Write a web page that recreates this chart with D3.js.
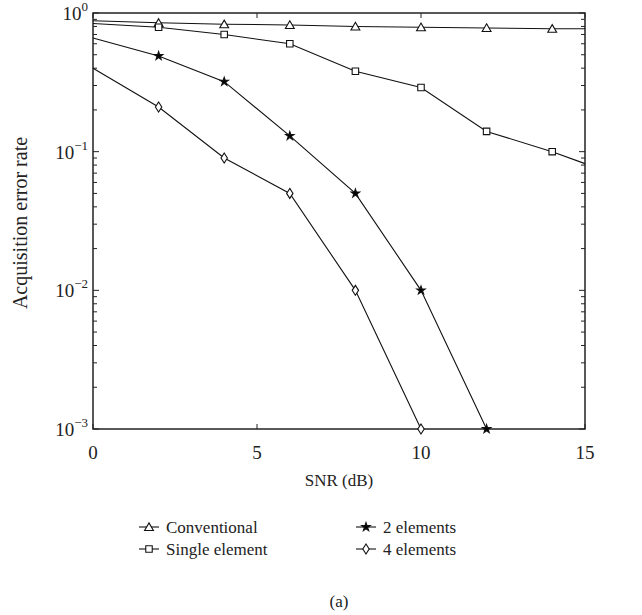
<!DOCTYPE html>
<html><head><meta charset="utf-8">
<script src="https://cdn.jsdelivr.net/npm/d3@7"></script>
<style>body{margin:0;background:#fff}svg{display:block}text{font-family:"Liberation Serif","DejaVu Serif",serif;fill:#222}</style>
</head><body><svg id="c" width="642" height="615"></svg>
<script>
const snr = [0, 2, 4, 6, 8, 10, 12, 14, 15];
const conventional = [0.88, 0.85, 0.83, 0.82, 0.80, 0.79, 0.78, 0.77, 0.77];
const singleElement = [0.84, 0.79, 0.70, 0.60, 0.38, 0.29, 0.14, 0.10, 0.082];
const twoElements = [0.66, 0.49, 0.32, 0.13, 0.05, 0.01, 0.001];
const fourElements = [0.40, 0.21, 0.09, 0.05, 0.01, 0.001];
const seriesNames = ["Conventional", "Single element", "2 elements", "4 elements"];
const xTicks = [0, 5, 10, 15];
const yExponents = [0, -1, -2, -3];

const FF = "Liberation Serif, DejaVu Serif, serif";
const svg = d3.select("#c");
const L = 93, R = 585, T = 13, B = 429;
const x = d3.scaleLinear().domain([0, 15]).range([L, R]);
const y = d3.scaleLog().domain([1e-3, 1]).range([B, T]);

const minor = [];
for (let e = -3; e < 0; e++) for (let k = 2; k <= 9; k++) minor.push(k * Math.pow(10, e));
const tk = svg.append("g").attr("stroke", "#222").attr("stroke-width", 1);
minor.forEach(v => {
  tk.append("line").attr("x1", L).attr("x2", L + 4).attr("y1", y(v)).attr("y2", y(v));
  tk.append("line").attr("x1", R).attr("x2", R - 4).attr("y1", y(v)).attr("y2", y(v));
});
yExponents.forEach(e => {
  const v = Math.pow(10, e);
  tk.append("line").attr("x1", L).attr("x2", L + 6).attr("y1", y(v)).attr("y2", y(v));
  tk.append("line").attr("x1", R).attr("x2", R - 6).attr("y1", y(v)).attr("y2", y(v));
  const t = svg.append("text").attr("x", L - 5).attr("y", y(v) + 7).attr("text-anchor", "end")
    .attr("font-family", FF).attr("font-size", 19);
  t.append("tspan").text("10");
  t.append("tspan").attr("dy", -9).attr("font-size", 13).text(e === 0 ? "0" : "\u2212" + (-e));
});
xTicks.forEach(v => {
  tk.append("line").attr("x1", x(v)).attr("x2", x(v)).attr("y1", B).attr("y2", B - 5);
  tk.append("line").attr("x1", x(v)).attr("x2", x(v)).attr("y1", T).attr("y2", T + 5);
  svg.append("text").attr("x", x(v)).attr("y", B + 30).attr("text-anchor", "middle")
    .attr("font-family", FF).attr("font-size", 19).text(v);
});
svg.append("rect").attr("x", L).attr("y", T).attr("width", R - L).attr("height", B - T)
  .attr("fill", "none").attr("stroke", "#222").attr("stroke-width", 1.5);

svg.append("text").attr("x", (L + R) / 2).attr("y", 486).attr("text-anchor", "middle")
  .attr("font-family", FF).attr("font-size", 17).text("SNR (dB)");
svg.append("text").attr("transform", `translate(27,${(T + B) / 2 + 2}) rotate(-90)`).attr("text-anchor", "middle")
  .attr("font-family", FF).attr("font-size", 20).text("Acquisition error rate");
svg.append("text").attr("x", (L + R) / 2).attr("y", 607).attr("text-anchor", "middle")
  .attr("font-family", FF).attr("font-size", 17).text("(a)");

const symTri = d3.symbol().type(d3.symbolTriangle).size(34);
const symSq = d3.symbol().type(d3.symbolSquare).size(42);
const symStar = d3.symbol().type(d3.symbolStar).size(22);
const diamond = "M0,-5L3.2,0L0,5L-3.2,0Z";
const markers = [
  { d: symTri(), fill: "#fff" },
  { d: symSq(), fill: "#fff" },
  { d: symStar(), fill: "#000" },
  { d: diamond, fill: "#fff" }
];
const allSeries = [conventional, singleElement, twoElements, fourElements];
const line = d3.line().x(d => x(d[0])).y(d => y(d[1]));
const plot = svg.append("g");
allSeries.forEach((vals, i) => {
  const pts = vals.map((v, j) => [snr[j], v]);
  plot.append("path").attr("d", line(pts)).attr("fill", "none").attr("stroke", "#111").attr("stroke-width", 1.1);
  pts.filter(p => p[0] > 0 && p[0] < 15).forEach(p => {
    plot.append("path").attr("d", markers[i].d)
      .attr("transform", `translate(${x(p[0])},${y(p[1]) + (i === 0 ? 1 : 0)})`)
      .attr("fill", markers[i].fill).attr("stroke", "#111").attr("stroke-width", 1.1);
  });
});

const legPos = [[139, 527], [139, 549], [356, 527], [356, 549]];
seriesNames.forEach((name, i) => {
  const [lx, ly] = legPos[i];
  svg.append("line").attr("x1", lx).attr("x2", lx + 20).attr("y1", ly).attr("y2", ly).attr("stroke", "#111").attr("stroke-width", 1.1);
  svg.append("path").attr("d", markers[i].d).attr("transform", `translate(${lx + 10},${ly + (i === 0 ? 1 : 0)})`)
    .attr("fill", markers[i].fill).attr("stroke", "#111").attr("stroke-width", 1.1);
  svg.append("text").attr("x", lx + 27).attr("y", ly + 6).attr("font-family", FF).attr("font-size", 17).text(name);
});
</script></body></html>
